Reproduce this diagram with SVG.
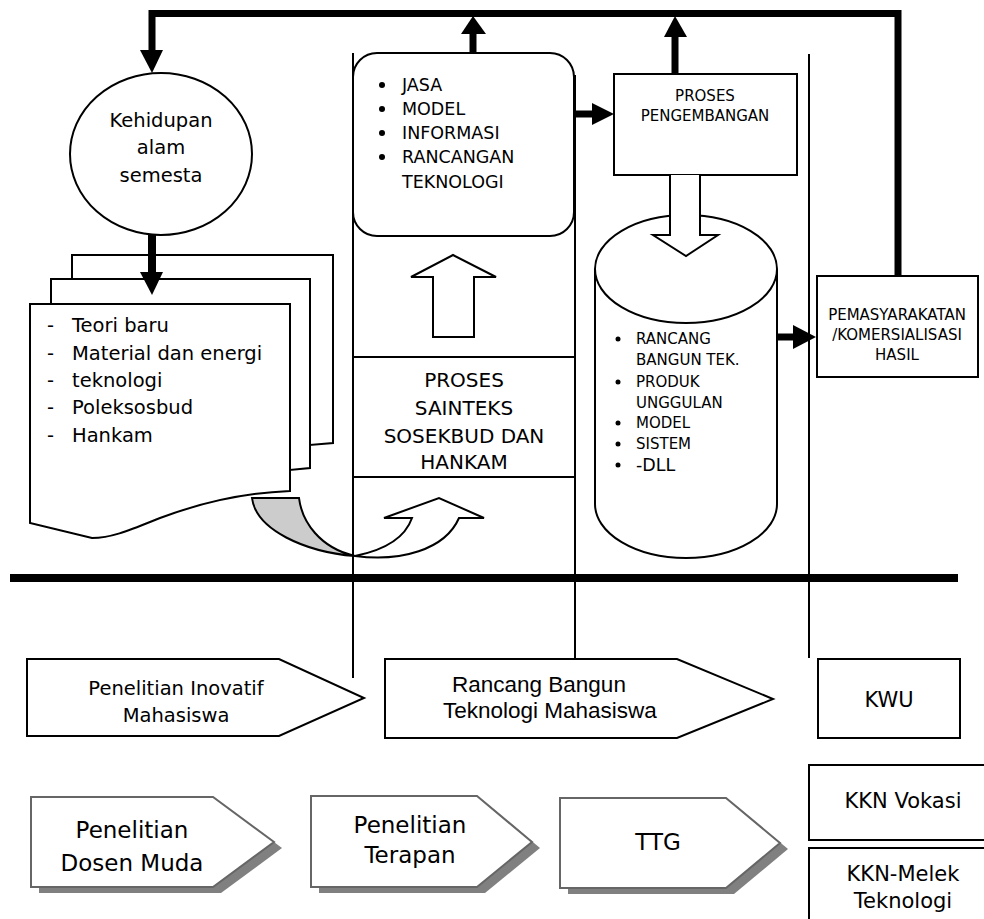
<svg xmlns="http://www.w3.org/2000/svg" width="984" height="919" viewBox="0 0 984 919">
<style>
.s{fill:#fff;stroke:#000;stroke-width:2}
.ln{fill:none;stroke:#000;stroke-width:2}
.thk{fill:none;stroke:#000;stroke-width:7;stroke-linejoin:miter}
.hd{fill:#000;stroke:none}
.t{font-family:"DejaVu Sans","Verdana",sans-serif;fill:#000}
.a{font-family:"Liberation Sans","Arial",sans-serif;fill:#000}
.c{text-anchor:middle}
.sh{fill:#fff;stroke:#666;stroke-width:2}
.shd{fill:#808080;stroke:none}
</style>
<rect width="984" height="919" fill="#fff"/>
<g id="lanes">
<line class="ln" x1="353" y1="53" x2="353" y2="678"/>
<line class="ln" x1="575" y1="75" x2="575" y2="658"/>
<line class="ln" x1="809" y1="54" x2="809" y2="658"/>
<line x1="10" y1="578" x2="958" y2="578" stroke="#000" stroke-width="8"/>
</g>
<g id="dokumen">
<path class="s" d="M72,279 V255 H333 V443 L310,445 V279 Z"/>
<path class="s" d="M51,304 V279 H310 V468 L290,470 V304 Z"/>
<path class="s" d="M30,304 H290 V491 C240,493 200,503 160,518 C130,530 112,538 92,538 L30,523 Z"/>
<g class="t" font-size="19.5">
<text x="47" y="332">-</text><text x="72" y="332">Teori baru</text>
<text x="47" y="360">-</text><text x="72" y="360">Material dan energi</text>
<text x="47" y="387">-</text><text x="72" y="387">teknologi</text>
<text x="47" y="414">-</text><text x="72" y="414">Poleksosbud</text>
<text x="47" y="442">-</text><text x="72" y="442">Hankam</text>
</g>
</g>
<g id="kehidupan">
<ellipse class="s" cx="161" cy="154" rx="91" ry="81"/>
<g class="t c" font-size="19.5">
<text x="161" y="127">Kehidupan</text>
<text x="161" y="154">alam</text>
<text x="161" y="182">semesta</text>
</g>
</g>
<g id="jasa">
<rect class="s" x="353" y="53" width="221" height="183" rx="24"/>
<g class="t" font-size="17.5">
<circle cx="382" cy="85" r="3"/><text x="402" y="91">JASA</text>
<circle cx="382" cy="109" r="3"/><text x="402" y="115">MODEL</text>
<circle cx="382" cy="133" r="3"/><text x="402" y="139">INFORMASI</text>
<circle cx="382" cy="157" r="3"/><text x="402" y="163">RANCANGAN</text>
<text x="402" y="188">TEKNOLOGI</text>
</g>
</g>
<g id="sainteks">
<rect class="s" x="353" y="357" width="222" height="120"/>
<g class="t c" font-size="20">
<text x="464" y="387">PROSES</text>
<text x="464" y="415">SAINTEKS</text>
<text x="464" y="443">SOSEKBUD DAN</text>
<text x="464" y="469">HANKAM</text>
</g>
</g>
<g id="pengembangan">
<rect class="s" x="614" y="74" width="183" height="101"/>
<g class="t c" font-size="15">
<text x="705" y="101">PROSES</text>
<text x="705" y="121">PENGEMBANGAN</text>
</g>
</g>
<g id="produk">
<path class="s" d="M595,269 V504 A91,54 0 0 0 777,504 V269 A91,54 0 0 0 595,269 Z"/>
<path class="ln" d="M595,269 A91,54 0 0 0 777,269"/>
<g class="t" font-size="15">
<circle cx="618" cy="339" r="2.5"/><text x="636" y="344">RANCANG</text>
<text x="636" y="365">BANGUN TEK.</text>
<circle cx="618" cy="382" r="2.5"/><text x="636" y="387">PRODUK</text>
<text x="636" y="408">UNGGULAN</text>
<circle cx="618" cy="423" r="2.5"/><text x="636" y="428">MODEL</text>
<circle cx="618" cy="444" r="2.5"/><text x="636" y="449">SISTEM</text>
<circle cx="618" cy="465" r="2.5"/><text x="636" y="471" font-size="17.5">-DLL</text>
</g>
</g>
<g id="pemasyarakatan">
<rect class="s" x="817" y="276" width="161" height="101"/>
<g class="t c" font-size="15">
<text x="897" y="320">PEMASYARAKATAN</text>
<text x="897" y="340">/KOMERSIALISASI</text>
<text x="897" y="360">HASIL</text>
</g>
</g>
<g id="connectors">
<path class="thk" d="M152,50 V13.5 H898 V276"/>
<polygon class="hd" points="140,50 163,50 152,73"/>
<line x1="152" y1="235" x2="152" y2="273" stroke="#000" stroke-width="8"/>
<polygon class="hd" points="140,272 163,272 152,295"/>
<line x1="473" y1="53" x2="473" y2="33" stroke="#000" stroke-width="7"/>
<polygon class="hd" points="461,34 486,34 473,16"/>
<line x1="675" y1="74" x2="675" y2="36" stroke="#000" stroke-width="7"/>
<polygon class="hd" points="664,37 687,37 675,16"/>
<line x1="575" y1="114" x2="593" y2="114" stroke="#000" stroke-width="7"/>
<polygon class="hd" points="592,103 592,125 614,114"/>
<line x1="777" y1="337" x2="794" y2="337" stroke="#000" stroke-width="7"/>
<polygon class="hd" points="793,325 793,349 816,337"/>
<path class="s" d="M670,175 V235 H653 L686,256 L718,235 H700 V175"/>
<path class="s" d="M433,337 V277 H411 L453,255 L496,277 H474 V337 Z"/>
<path d="M252,498 H299 C302,522 320,548 355,556 C305,552 256,530 252,498 Z" fill="#cccccc" stroke="#000" stroke-width="2"/>
<path class="s" d="M355,556 C385,550 405,538 412,518 L384,518 L439,498 L484,518 L459,518 C445,550 400,562 355,556 Z"/>
</g>
<g id="penelitian-inovatif">
<path class="s" d="M27,659 H279 L364,698 L279,736 H27 Z"/>
<g class="t c" font-size="19.5">
<text x="176" y="695">Penelitian Inovatif</text>
<text x="176" y="722">Mahasiswa</text>
</g>
</g>
<g id="rancang-bangun">
<path class="s" d="M385,659 H677 L773,699 L677,738 H385 Z"/>
<g class="a" font-size="22.5">
<text x="452" y="692">Rancang Bangun</text>
<text x="443" y="718">Teknologi Mahasiswa</text>
</g>
</g>
<g id="kwu">
<rect class="s" x="818" y="659" width="142" height="79"/>
<text class="t c" x="889" y="707" font-size="21">KWU</text>
</g>
<g id="dosen-muda">
<path class="shd" d="M39,803 H221 L282,848 L221,893 H39 Z"/>
<path class="sh" d="M31,797 H213 L274,842 L213,887 H31 Z"/>
<g class="t c" font-size="23">
<text x="132" y="838">Penelitian</text>
<text x="132" y="871">Dosen Muda</text>
</g>
</g>
<g id="terapan">
<path class="shd" d="M319,802 H485 L540,848 L485,893 H319 Z"/>
<path class="sh" d="M311,796 H477 L532,842 L477,887 H311 Z"/>
<g class="t c" font-size="23">
<text x="410" y="833">Penelitian</text>
<text x="410" y="863">Terapan</text>
</g>
</g>
<g id="ttg">
<path class="shd" d="M568,804 H734 L788,849 L734,894 H568 Z"/>
<path class="sh" d="M560,798 H726 L780,843 L726,888 H560 Z"/>
<text class="t c" x="658" y="850" font-size="23">TTG</text>
</g>
<g id="kkn-vokasi">
<rect class="s" x="809" y="765" width="185" height="75"/>
<text class="t c" x="903" y="808" font-size="21">KKN Vokasi</text>
</g>
<g id="kkn-melek">
<rect class="s" x="809" y="848" width="185" height="85"/>
<g class="t c" font-size="21">
<text x="903" y="881">KKN-Melek</text>
<text x="903" y="908">Teknologi</text>
</g>
</g>
</svg>
